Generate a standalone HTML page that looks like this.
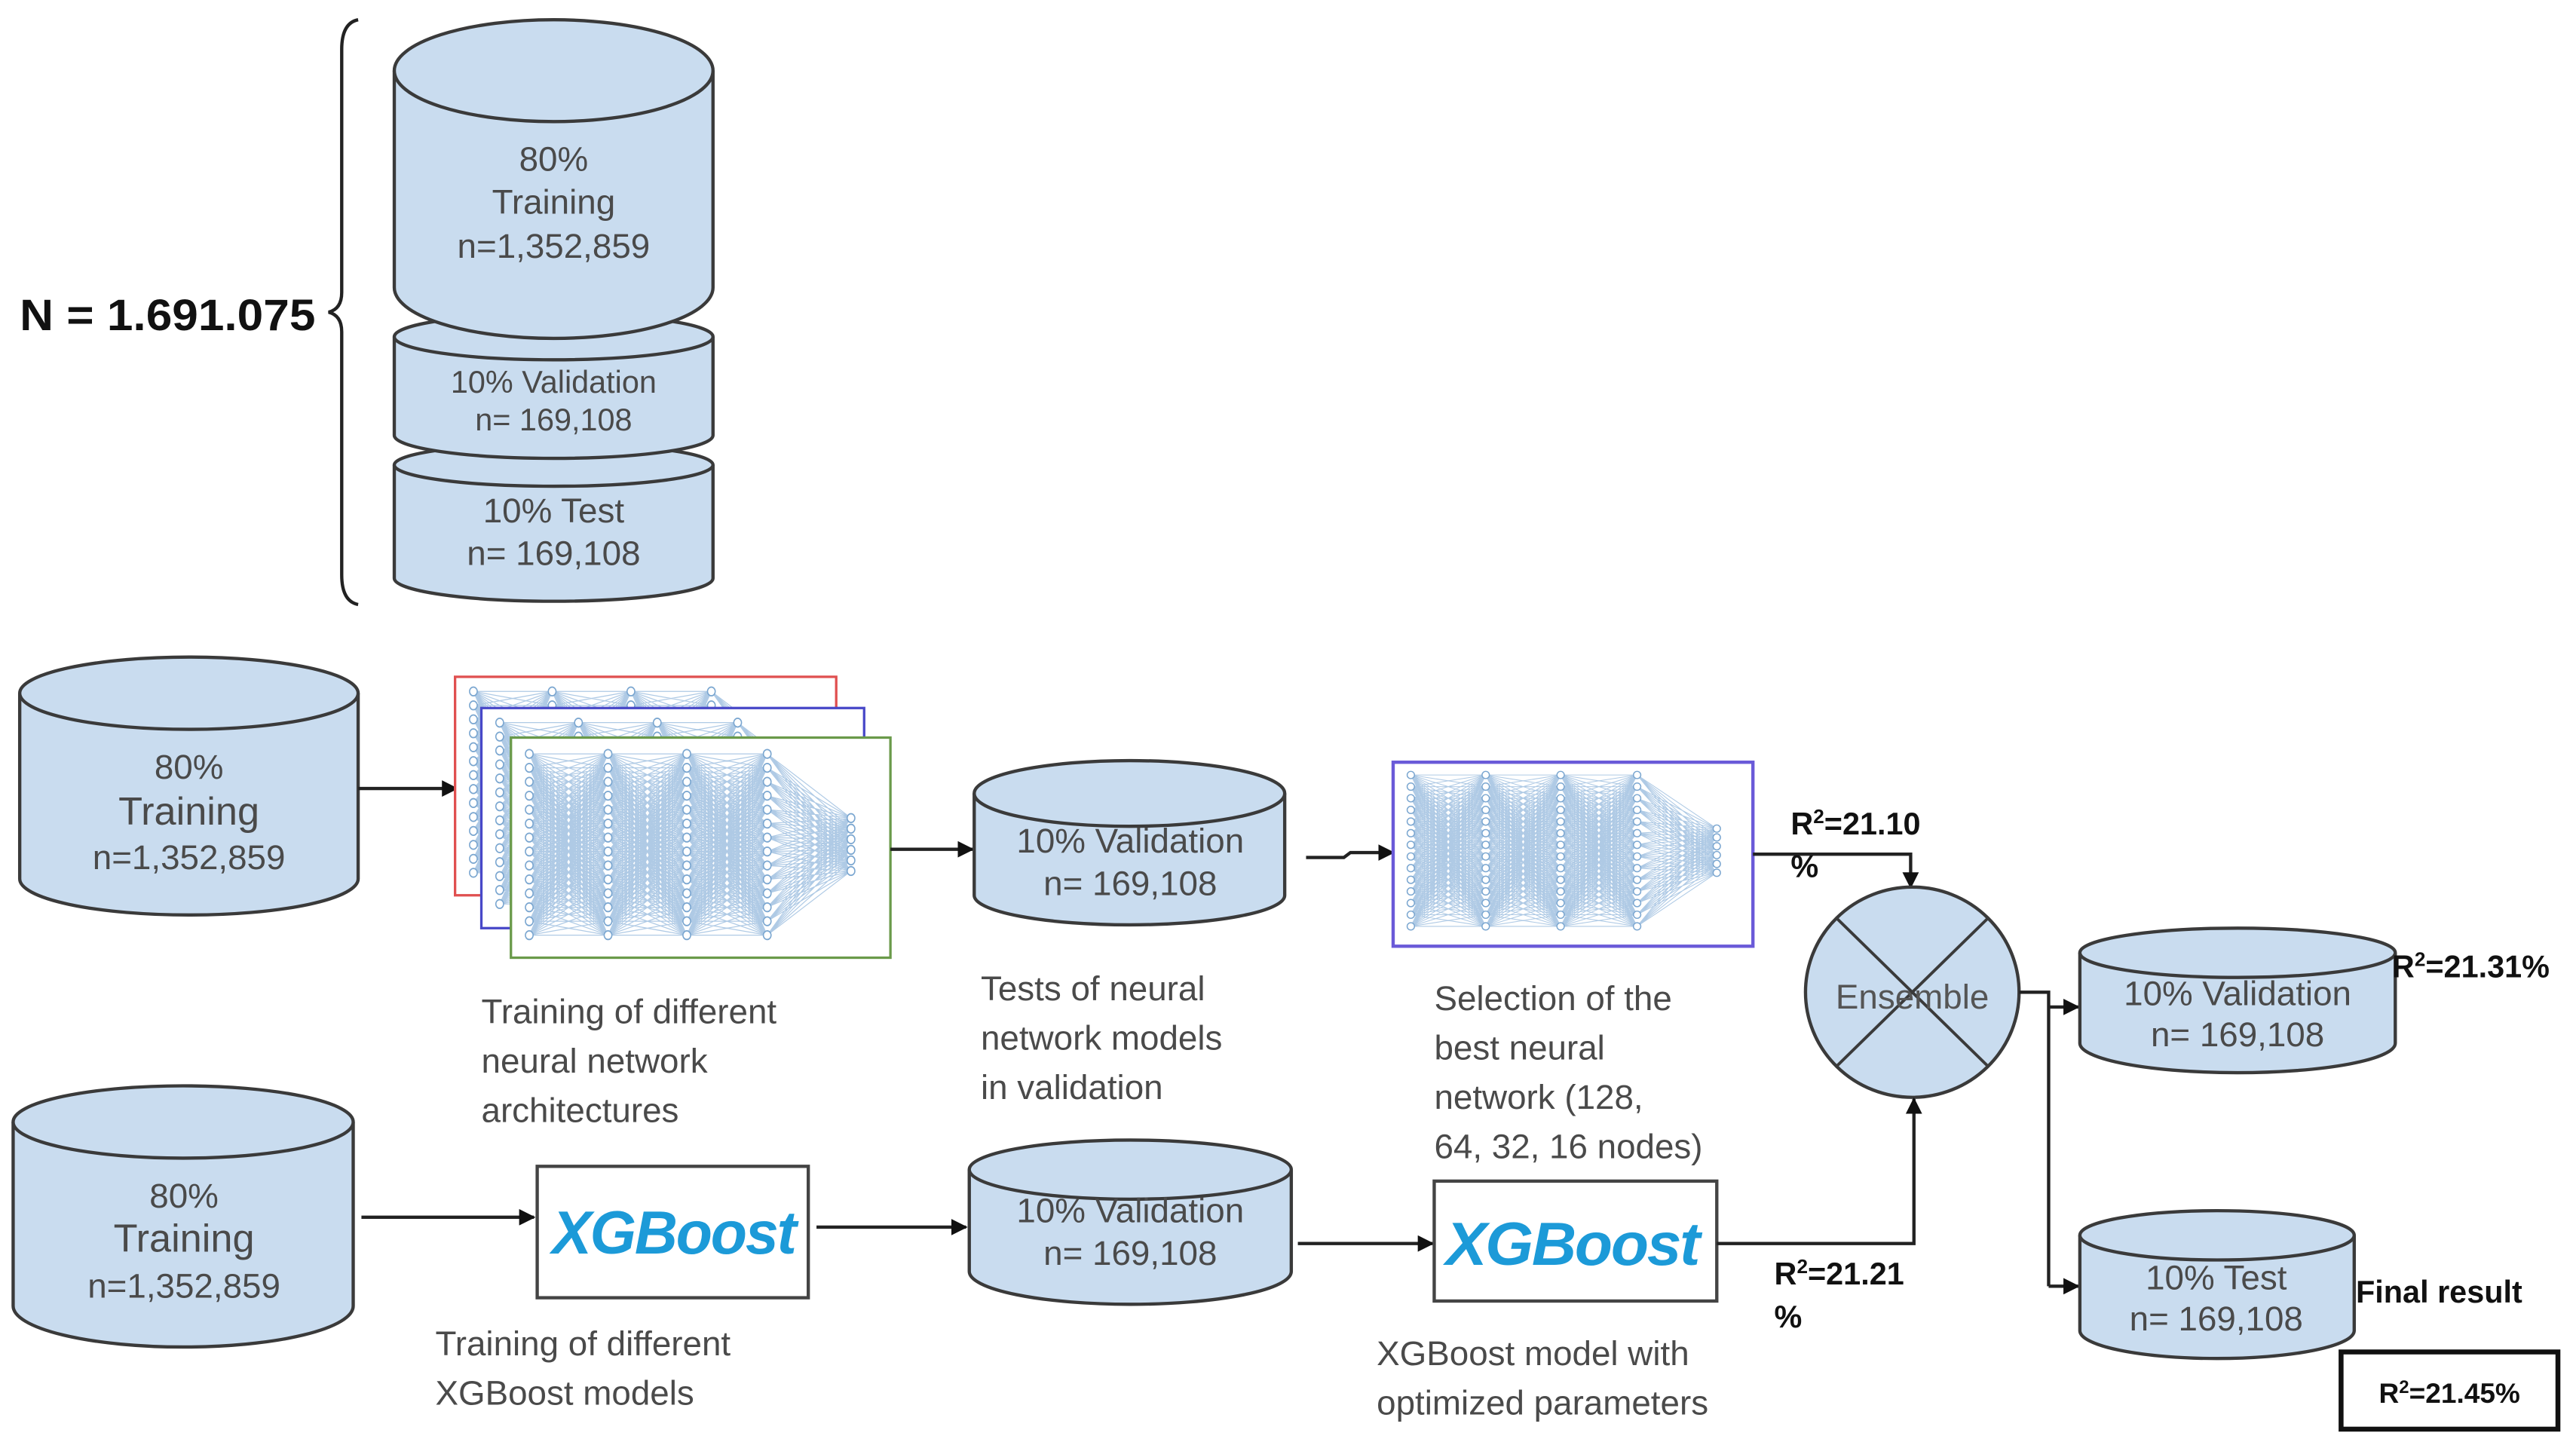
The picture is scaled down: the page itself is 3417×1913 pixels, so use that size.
<!DOCTYPE html>
<html><head><meta charset="utf-8"><style>
html,body{margin:0;padding:0;background:#fff;}
svg{display:block;}
text{font-family:"Liberation Sans",sans-serif;}
.g{fill:#4a4a4a;font-size:21px;}
.c{fill:#4a4a4a;font-size:21px;text-anchor:middle;}
.b{fill:#111;font-weight:bold;font-size:19px;}
.cyl{fill:#c9dcef;stroke:#3a3a3a;stroke-width:2;}
.ln{stroke:#222;stroke-width:2;fill:none;}
.xg{fill:#1c9ad8;font-weight:bold;font-style:italic;font-size:37px;letter-spacing:-1px;}
</style></head><body>
<svg width="3417" height="1913" viewBox="0 0 1568 877.8" xmlns="http://www.w3.org/2000/svg">
<defs>
<marker id="ah" markerWidth="10" markerHeight="10" refX="9" refY="5" orient="auto" markerUnits="userSpaceOnUse"><path d="M0,0 L10,5 L0,10 z" fill="#111"/></marker>
<g id="net"></g>
</defs>
<rect width="1568" height="878" fill="#fff"/>

<path class="ln" d="M218,12 Q208,14 208,30 L208,178 Q208,188 200,190 Q208,192 208,202 L208,350 Q208,366 218,368" stroke-width="1.8"/>
<text x="12" y="201" textLength="180" lengthAdjust="spacingAndGlyphs" style="font-size:27px;font-weight:bold;fill:#111">N = 1.691.075</text>

<path class="cyl" d="M240,283 L240,352 A97,14 0 0 0 434,352 L434,283"/>
<ellipse class="cyl" cx="337" cy="283" rx="97" ry="13"/>
<path class="cyl" d="M240,205 L240,265 A97,14 0 0 0 434,265 L434,205"/>
<ellipse class="cyl" cx="337" cy="205" rx="97" ry="14"/>
<path class="cyl" d="M240,43 L240,175 A97,31 0 0 0 434,175 L434,43"/>
<ellipse class="cyl" cx="337" cy="43" rx="97" ry="31"/>
<text class="c" x="337" y="104">80%</text>
<text class="c" x="337" y="130">Training</text>
<text class="c" x="337" y="157">n=1,352,859</text>
<text class="c" x="337" y="239" style="font-size:19px">10% Validation</text>
<text class="c" x="337" y="262" style="font-size:19px">n= 169,108</text>
<text class="c" x="337" y="318">10% Test</text>
<text class="c" x="337" y="344">n= 169,108</text>

<path class="cyl" d="M12,422 L12,535 A103,22 0 0 0 218,535 L218,422"/>
<ellipse class="cyl" cx="115" cy="422" rx="103" ry="22"/>
<text class="c" x="115" y="474">80%</text>
<text class="c" x="115" y="502" style="font-size:24px">Training</text>
<text class="c" x="115" y="529">n=1,352,859</text>
<line class="ln" x1="218" y1="480" x2="278" y2="480" marker-end="url(#ah)"/>

<rect x="277" y="412" width="232" height="133" fill="#fff" stroke="#e05050" stroke-width="1.5"/>
<use href="#net" transform="translate(280,414) scale(1.02,1.15)"/>
<rect x="293" y="431" width="233" height="134" fill="#fff" stroke="#4848c8" stroke-width="1.5"/>
<use href="#net" transform="translate(296,433) scale(1.02,1.15)"/>
<rect x="311" y="449" width="231" height="134" fill="#fff" stroke="#6a9a4a" stroke-width="1.5"/>
<use href="#net" transform="translate(314,452) scale(1.02,1.15)"/>
<line class="ln" x1="542" y1="517" x2="592" y2="517" marker-end="url(#ah)"/>

<path class="cyl" d="M593,483 L593,545 A94.5,18 0 0 0 782,545 L782,483"/>
<ellipse class="cyl" cx="687.5" cy="483" rx="94.5" ry="20"/>
<text class="c" x="688" y="519">10% Validation</text>
<text class="c" x="688" y="545">n= 169,108</text>
<path class="ln" d="M795,522 L818,522 L822,519 L848,519" marker-end="url(#ah)"/>

<rect x="848" y="464" width="219" height="112" fill="#fff" stroke="#6a5ad8" stroke-width="2"/>
<use href="#net" transform="translate(851,466) scale(0.97,0.96)"/>

<text class="g" x="293" y="623">Training of different</text>
<text class="g" x="293" y="653">neural network</text>
<text class="g" x="293" y="683">architectures</text>
<text class="g" x="597" y="609">Tests of neural</text>
<text class="g" x="597" y="639">network models</text>
<text class="g" x="597" y="669">in validation</text>
<text class="g" x="873" y="615">Selection of the</text>
<text class="g" x="873" y="645">best neural</text>
<text class="g" x="873" y="675">network (128,</text>
<text class="g" x="873" y="705">64, 32, 16 nodes)</text>

<path class="ln" d="M1067,520 L1163,520 L1163,540" marker-end="url(#ah)"/>
<text class="b" x="1090" y="508">R<tspan dy="-7" font-size="12">2</tspan><tspan dy="7">=21.10</tspan></text>
<text class="b" x="1090" y="534">%</text>

<ellipse cx="1164" cy="604" rx="65" ry="64" fill="#c9dcef" stroke="#3a3a3a" stroke-width="2"/>
<line x1="1118" y1="559" x2="1210" y2="649" stroke="#3a3a3a" stroke-width="1.8"/>
<line x1="1210" y1="559" x2="1118" y2="649" stroke="#3a3a3a" stroke-width="1.8"/>
<text class="c" x="1164" y="614" style="fill:#555">Ensemble</text>

<path class="cyl" d="M8,683 L8,795 A103.5,25 0 0 0 215,795 L215,683"/>
<ellipse class="cyl" cx="111.5" cy="683" rx="103.5" ry="22"/>
<text class="c" x="112" y="735">80%</text>
<text class="c" x="112" y="762" style="font-size:24px">Training</text>
<text class="c" x="112" y="790">n=1,352,859</text>
<line class="ln" x1="220" y1="741" x2="325" y2="741" marker-end="url(#ah)"/>

<rect x="327" y="710" width="165" height="80" fill="#fff" stroke="#444" stroke-width="2"/>
<text class="xg" x="336" y="763" textLength="148" lengthAdjust="spacingAndGlyphs">XGBoost</text>
<line class="ln" x1="497" y1="747" x2="588" y2="747" marker-end="url(#ah)"/>

<path class="cyl" d="M590,712 L590,774 A98,20 0 0 0 786,774 L786,712"/>
<ellipse class="cyl" cx="688" cy="712" rx="98" ry="18"/>
<text class="c" x="688" y="744">10% Validation</text>
<text class="c" x="688" y="770">n= 169,108</text>
<line class="ln" x1="790" y1="757" x2="872" y2="757" marker-end="url(#ah)"/>

<rect x="873" y="719" width="172" height="73" fill="#fff" stroke="#444" stroke-width="2"/>
<text class="xg" x="880" y="770" textLength="154" lengthAdjust="spacingAndGlyphs">XGBoost</text>
<path class="ln" d="M1045,757 L1165,757 L1165,669" marker-end="url(#ah)"/>
<text class="b" x="1080" y="782">R<tspan dy="-7" font-size="12">2</tspan><tspan dy="7">=21.21</tspan></text>
<text class="b" x="1080" y="808">%</text>

<text class="g" x="265" y="825">Training of different</text>
<text class="g" x="265" y="855">XGBoost models</text>
<text class="g" x="838" y="831">XGBoost model with</text>
<text class="g" x="838" y="861">optimized parameters</text>

<path class="ln" d="M1229,604 L1247,604 L1247,783" stroke-width="1.6"/>
<line class="ln" x1="1247" y1="613" x2="1265" y2="613" marker-end="url(#ah)"/>
<line class="ln" x1="1247" y1="783" x2="1265" y2="783" marker-end="url(#ah)"/>

<path class="cyl" d="M1266,580 L1266,635 A96,18 0 0 0 1458,635 L1458,580"/>
<ellipse class="cyl" cx="1362" cy="580" rx="96" ry="15"/>
<text class="c" x="1362" y="612">10% Validation</text>
<text class="c" x="1362" y="637">n= 169,108</text>
<text class="b" x="1456" y="595">R<tspan dy="-7" font-size="12">2</tspan><tspan dy="7">=21.31%</tspan></text>

<path class="cyl" d="M1266,752 L1266,810 A83.5,17 0 0 0 1433,810 L1433,752"/>
<ellipse class="cyl" cx="1349.5" cy="752" rx="83.5" ry="15"/>
<text class="c" x="1349" y="785">10% Test</text>
<text class="c" x="1349" y="810">n= 169,108</text>
<text class="b" x="1434" y="793">Final result</text>
<rect x="1425" y="823" width="132" height="47" fill="#fff" stroke="#111" stroke-width="3"/>
<text class="b" x="1491" y="854" text-anchor="middle" style="font-size:17px">R<tspan dy="-6" font-size="11">2</tspan><tspan dy="6">=21.45%</tspan></text>
</svg>
<script>
(function(){
var g=document.getElementById('net');var ns='http://www.w3.org/2000/svg';
var cols=[[8,14],[55,14],[102,14],[150,14],[200,6]];var H=108;
function ys(n){var a=[];var top=n>6?6:40,bot=n>6?H-6:H-40;for(var i=0;i<n;i++)a.push(top+(bot-top)*i/(n-1));return a;}
var s='';
for(var c=0;c<cols.length-1;c++){var a=ys(cols[c][1]),b=ys(cols[c+1][1]);
for(var i=0;i<a.length;i++)for(var j=0;j<b.length;j++)s+='M'+cols[c][0]+','+a[i].toFixed(1)+'L'+cols[c+1][0]+','+b[j].toFixed(1);}
var p=document.createElementNS(ns,'path');p.setAttribute('d',s);p.setAttribute('stroke','#6d9fd0');p.setAttribute('stroke-width','0.5');p.setAttribute('stroke-opacity','0.55');p.setAttribute('fill','none');g.appendChild(p);
for(var c=0;c<cols.length;c++){var a=ys(cols[c][1]);for(var i=0;i<a.length;i++){var e=document.createElementNS(ns,'circle');e.setAttribute('cx',cols[c][0]);e.setAttribute('cy',a[i]);e.setAttribute('r','2.3');e.setAttribute('fill','#fff');e.setAttribute('stroke','#7aa6d0');e.setAttribute('stroke-width','0.7');g.appendChild(e);}}
})();
</script>
</body></html>
